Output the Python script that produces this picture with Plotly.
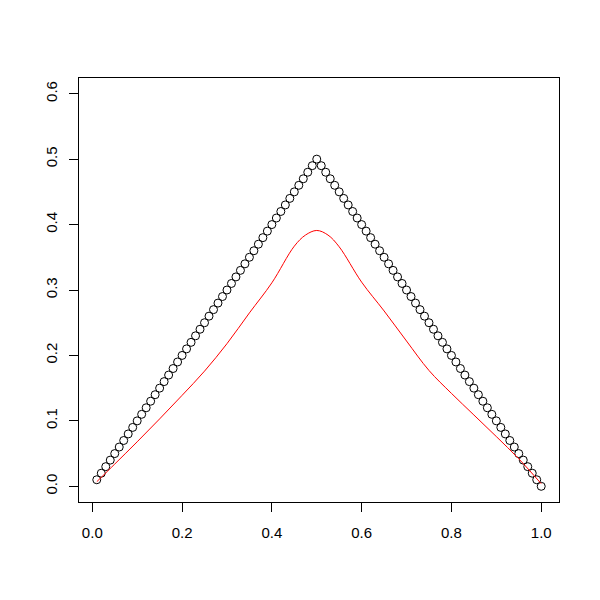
import plotly.graph_objects as go

# Points: x values and y values (triangle)
point_x = [0.01, 0.02, 0.03, 0.04, 0.05, 0.06, 0.07, 0.08, 0.09, 0.10,
           0.11, 0.12, 0.13, 0.14, 0.15, 0.16, 0.17, 0.18, 0.19, 0.20,
           0.21, 0.22, 0.23, 0.24, 0.25, 0.26, 0.27, 0.28, 0.29, 0.30,
           0.31, 0.32, 0.33, 0.34, 0.35, 0.36, 0.37, 0.38, 0.39, 0.40,
           0.41, 0.42, 0.43, 0.44, 0.45, 0.46, 0.47, 0.48, 0.49, 0.50,
           0.51, 0.52, 0.53, 0.54, 0.55, 0.56, 0.57, 0.58, 0.59, 0.60,
           0.61, 0.62, 0.63, 0.64, 0.65, 0.66, 0.67, 0.68, 0.69, 0.70,
           0.71, 0.72, 0.73, 0.74, 0.75, 0.76, 0.77, 0.78, 0.79, 0.80,
           0.81, 0.82, 0.83, 0.84, 0.85, 0.86, 0.87, 0.88, 0.89, 0.90,
           0.91, 0.92, 0.93, 0.94, 0.95, 0.96, 0.97, 0.98, 0.99, 1.00]
point_y = [0.01, 0.02, 0.03, 0.04, 0.05, 0.06, 0.07, 0.08, 0.09, 0.10,
           0.11, 0.12, 0.13, 0.14, 0.15, 0.16, 0.17, 0.18, 0.19, 0.20,
           0.21, 0.22, 0.23, 0.24, 0.25, 0.26, 0.27, 0.28, 0.29, 0.30,
           0.31, 0.32, 0.33, 0.34, 0.35, 0.36, 0.37, 0.38, 0.39, 0.40,
           0.41, 0.42, 0.43, 0.44, 0.45, 0.46, 0.47, 0.48, 0.49, 0.50,
           0.49, 0.48, 0.47, 0.46, 0.45, 0.44, 0.43, 0.42, 0.41, 0.40,
           0.39, 0.38, 0.37, 0.36, 0.35, 0.34, 0.33, 0.32, 0.31, 0.30,
           0.29, 0.28, 0.27, 0.26, 0.25, 0.24, 0.23, 0.22, 0.21, 0.20,
           0.19, 0.18, 0.17, 0.16, 0.15, 0.14, 0.13, 0.12, 0.11, 0.10,
           0.09, 0.08, 0.07, 0.06, 0.05, 0.04, 0.03, 0.02, 0.01, 0.00]

# Smoothed curve (red)
curve_x = [0.01, 0.05, 0.10, 0.15, 0.20, 0.25, 0.30, 0.35, 0.40, 0.45, 0.475,
           0.50, 0.525, 0.55, 0.60, 0.65, 0.70, 0.75, 0.80, 0.85, 0.90, 0.95, 1.00]
curve_y = [0.007, 0.034, 0.068, 0.103, 0.139, 0.176, 0.218, 0.265, 0.311, 0.367, 0.384,
           0.391, 0.384, 0.366, 0.312, 0.268, 0.222, 0.177, 0.142, 0.109, 0.076, 0.042, 0.004]

x_ticks = [0.0, 0.2, 0.4, 0.6, 0.8, 1.0]
x_tick_labels = ["0.0", "0.2", "0.4", "0.6", "0.8", "1.0"]
y_ticks = [0.0, 0.1, 0.2, 0.3, 0.4, 0.5, 0.6]
y_tick_labels = ["0.0", "0.1", "0.2", "0.3", "0.4", "0.5", "0.6"]

fig = go.Figure()
fig.add_trace(go.Scatter(
    x=point_x, y=point_y, mode="markers",
    marker=dict(symbol="circle-open", size=8, color="black", line=dict(width=1, color="black")),
    showlegend=False, cliponaxis=False,
))
fig.add_trace(go.Scatter(
    x=curve_x, y=curve_y, mode="lines",
    line=dict(color="red", width=1, shape="spline", smoothing=1.0),
    showlegend=False,
))

font = dict(family="Liberation Sans, Arial, sans-serif", size=15, color="black")
fig.update_layout(
    width=600, height=600,
    margin=dict(l=71, r=49, t=70, b=106),
    paper_bgcolor="white", plot_bgcolor="white",
    font=font,
)
fig.update_xaxes(
    range=[-0.0296, 1.0396], tickvals=x_ticks, ticktext=x_tick_labels,
    showgrid=False, zeroline=False, showline=True, mirror=True,
    linecolor="black", linewidth=1, ticks="outside", ticklen=9,
    tickcolor="black", tickwidth=1, ticklabelstandoff=8, tickfont=font,
)
fig.update_yaxes(
    range=[-0.024, 0.624], tickvals=y_ticks, ticktext=y_tick_labels,
    showgrid=False, zeroline=False, showline=True, mirror=True,
    linecolor="black", linewidth=1, ticks="outside", ticklen=9,
    tickcolor="black", tickwidth=1, tickangle=-90, ticklabelstandoff=6, tickfont=font,
)

fig.write_html("out.html")
